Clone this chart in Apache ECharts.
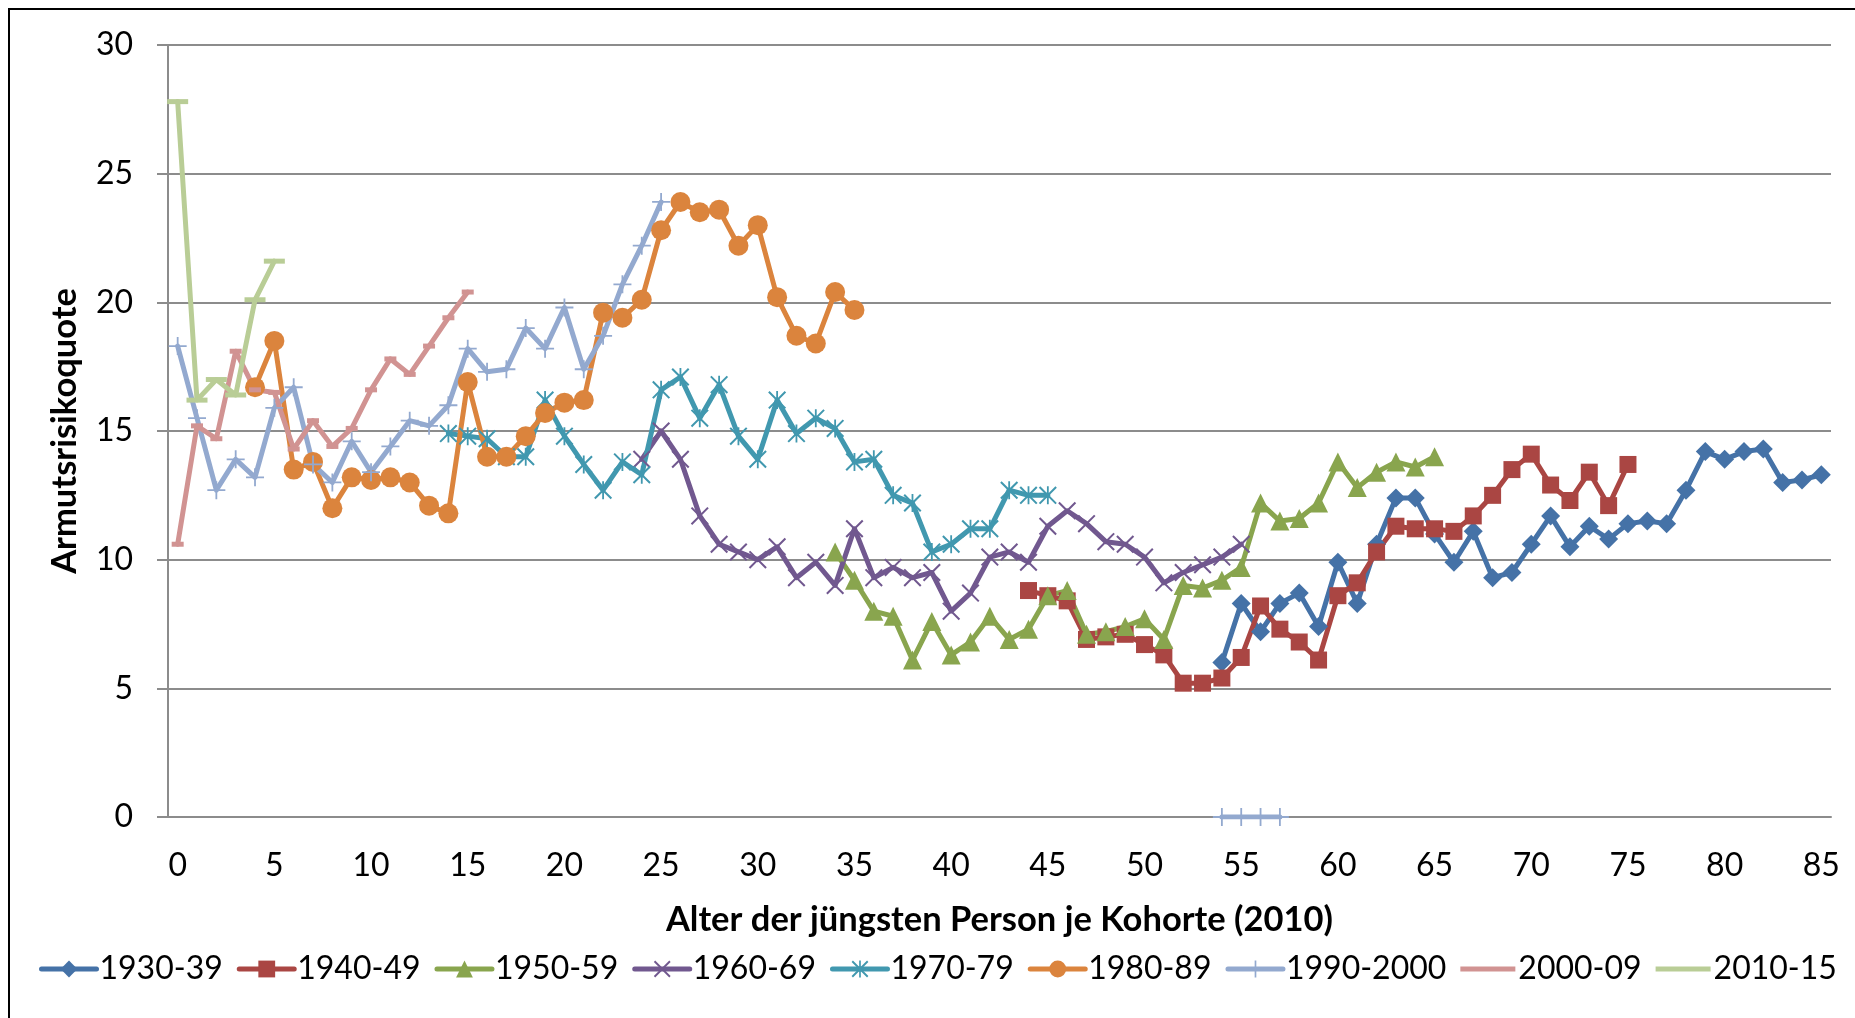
<!DOCTYPE html>
<html>
<head>
<meta charset="utf-8">
<script src="https://cdn.jsdelivr.net/npm/echarts@6.0.0/dist/echarts.min.js"></script>
<style>
  html, body { margin: 0; padding: 0; background: #fff; }
  #chart { width: 1855px; height: 1018px; }
</style>
</head>
<body>
<div id="chart"></div>
<script>
// Alter 0..85
const ages = [0, 1, 2, 3, 4, 5, 6, 7, 8, 9, 10, 11, 12, 13, 14, 15, 16, 17, 18, 19,
  20, 21, 22, 23, 24, 25, 26, 27, 28, 29, 30, 31, 32, 33, 34, 35, 36, 37, 38, 39,
  40, 41, 42, 43, 44, 45, 46, 47, 48, 49, 50, 51, 52, 53, 54, 55, 56, 57, 58, 59,
  60, 61, 62, 63, 64, 65, 66, 67, 68, 69, 70, 71, 72, 73, 74, 75, 76, 77, 78, 79,
  80, 81, 82, 83, 84, 85];

const yTicks = [0, 5, 10, 15, 20, 25, 30];

// Werte je Kohorte, jeweils ab dem angegebenen Startalter
const v1930 = [6.0, 8.3, 7.2, 8.3, 8.7, 7.4, 9.9, 8.3, 10.6, 12.4, 12.4, 11.0, 9.9, 11.1, 9.3, 9.5,
  10.6, 11.7, 10.5, 11.3, 10.8, 11.4, 11.5, 11.4, 12.7, 14.2, 13.9, 14.2, 14.3, 13.0, 13.1, 13.3]; // ab 54
const v1940 = [8.8, 8.6, 8.4, 6.9, 7.0, 7.1, 6.7, 6.3, 5.2, 5.2, 5.4, 6.2, 8.2, 7.3, 6.8, 6.1,
  8.6, 9.1, 10.3, 11.3, 11.2, 11.2, 11.1, 11.7, 12.5, 13.5, 14.1, 12.9, 12.3, 13.4, 12.1, 13.7]; // ab 44
const v1950 = [10.3, 9.2, 8.0, 7.8, 6.1, 7.6, 6.3, 6.8, 7.8, 6.9, 7.3, 8.6, 8.8, 7.1, 7.2, 7.4,
  7.7, 6.9, 9.0, 8.9, 9.2, 9.7, 12.2, 11.5, 11.6, 12.2, 13.8, 12.8, 13.4, 13.8, 13.6, 14.0]; // ab 34
const v1960 = [13.9, 15.0, 13.9, 11.7, 10.6, 10.3, 10.0, 10.5, 9.3, 9.9, 9.0, 11.2, 9.3, 9.7, 9.3, 9.5,
  8.0, 8.7, 10.1, 10.3, 9.9, 11.3, 11.9, 11.4, 10.7, 10.6, 10.1, 9.1, 9.5, 9.8, 10.1, 10.6]; // ab 24
const v1970 = [14.9, 14.8, 14.7, 14.0, 14.0, 16.2, 14.8, 13.7, 12.7, 13.8, 13.3, 16.6, 17.1, 15.5, 16.8, 14.8,
  13.9, 16.2, 14.9, 15.5, 15.1, 13.8, 13.9, 12.5, 12.2, 10.3, 10.6, 11.2, 11.2, 12.7, 12.5, 12.5]; // ab 14
const v1980 = [16.7, 18.5, 13.5, 13.8, 12.0, 13.2, 13.1, 13.2, 13.0, 12.1, 11.8, 16.9, 14.0, 14.0, 14.8, 15.7,
  16.1, 16.2, 19.6, 19.4, 20.1, 22.8, 23.9, 23.5, 23.6, 22.2, 23.0, 20.2, 18.7, 18.4, 20.4, 19.7]; // ab 4
const v1990 = [18.3, 15.5, 12.7, 13.9, 13.2, 15.9, 16.7, 13.7, 13.0, 14.6, 13.4, 14.4, 15.4, 15.2, 16.0, 18.2,
  17.3, 17.4, 19.0, 18.2, 19.8, 17.4, 18.7, 20.7, 22.2, 23.9]; // ab 0
const v1990late = [0, 0, 0, 0]; // ab 54
const v2000 = [10.6, 15.2, 14.7, 18.1, 16.6, 16.5, 14.3, 15.4, 14.4, 15.1, 16.6, 17.8, 17.2, 18.3, 19.4, 20.4]; // ab 0
const v2010 = [27.8, 16.2, 17.0, 16.4, 20.1, 21.6]; // ab 0

function place(parts) {
  const out = ages.map(() => null);
  parts.forEach(([start, vals]) => vals.forEach((v, i) => { out[start + i] = v; }));
  return out;
}

const markX = 'path://M0,1.6L1.6,0L20,18.4L18.4,20Z M18.4,0L20,1.6L1.6,20L0,18.4Z';
const markStar = 'path://M0,1.6L1.6,0L20,18.4L18.4,20Z M18.4,0L20,1.6L1.6,20L0,18.4Z M9,0H11V20H9Z';
const markPlus = 'path://M9,0H11V20H9Z M0,9H20V11H0Z';
// nur Linie in der Legende (Balken-Marker gehen in der Linie auf)
const legendBar = 'path://M0,8H55V13H0Z M0,0L0.01,0L0,0.01Z M55,21L54.99,21L55,20.99Z';

const cohorts = [
  { name: '1930-39', color: '#4572A7', symbol: 'diamond', size: 19, parts: [[54, v1930]] },
  { name: '1940-49', color: '#AA4643', symbol: 'rect', size: 17, parts: [[44, v1940]] },
  { name: '1950-59', color: '#89A54E', symbol: 'triangle', size: 19, parts: [[34, v1950]] },
  { name: '1960-69', color: '#71588F', symbol: markX, size: 18, parts: [[24, v1960]] },
  { name: '1970-79', color: '#4198AF', symbol: markStar, size: 18, parts: [[14, v1970]] },
  { name: '1980-89', color: '#DB843D', symbol: 'circle', size: 20, parts: [[4, v1980]] },
  { name: '1990-2000', color: '#93A9CF', symbol: markPlus, size: 18, parts: [[0, v1990], [54, v1990late]] },
  { name: '2000-09', color: '#D19392', symbol: 'rect', size: [12, 5], parts: [[0, v2000]], bar: true },
  { name: '2010-15', color: '#B9CD96', symbol: 'rect', size: [21, 5], parts: [[0, v2010]], bar: true }
];

const font = 'Lato, "Open Sans", sans-serif';
const gray = '#8c8c8c';

const chart = echarts.init(document.getElementById('chart'));
chart.setOption({
  backgroundColor: '#fff',
  animation: false,
  textStyle: { fontFamily: font, color: '#000' },
  graphic: [{
    type: 'rect',
    shape: { x: 9, y: 9, width: 1900, height: 1100 },
    style: { fill: 'none', stroke: '#000', lineWidth: 2 },
    silent: true
  }],
  grid: { left: 168, right: 24, top: 45, bottom: 201 },
  legend: {
    left: 34,
    top: 948,
    itemWidth: 55,
    itemHeight: 21,
    itemGap: 14,
    lineStyle: { width: 5 },
    textStyle: { fontFamily: font, fontSize: 32, color: '#000', padding: [0, 0, 0, -2] },
    data: cohorts.map(c => c.bar
      ? { name: c.name, icon: legendBar }
      : { name: c.name, lineStyle: { width: 5 } })
  },
  xAxis: {
    type: 'category',
    data: ages,
    name: 'Alter der jüngsten Person je Kohorte (2010)',
    nameLocation: 'middle',
    nameGap: 85,
    nameTextStyle: { fontFamily: font, fontSize: 34.5, fontWeight: 'bold', color: '#000' },
    axisLine: { lineStyle: { color: gray, width: 2 } },
    axisTick: { interval: 0, length: 11, lineStyle: { color: gray, width: 2 } },
    axisLabel: { interval: 4, margin: 33, fontSize: 32, fontFamily: font, color: '#000' },
    splitLine: { show: false }
  },
  yAxis: {
    type: 'value',
    min: yTicks[0],
    max: yTicks[yTicks.length - 1],
    interval: 5,
    name: 'Armutsrisikoquote',
    nameLocation: 'middle',
    nameGap: 86,
    nameTextStyle: { fontFamily: font, fontSize: 34.5, fontWeight: 'bold', color: '#000' },
    axisLine: { show: true, lineStyle: { color: gray, width: 2 } },
    axisTick: { show: true, length: 11, lineStyle: { color: gray, width: 2 } },
    axisLabel: { margin: 35, fontSize: 32, fontFamily: font, color: '#000' },
    splitLine: { lineStyle: { color: gray, width: 2 } }
  },
  series: cohorts.map(c => ({
    name: c.name,
    type: 'line',
    data: place(c.parts),
    symbol: c.symbol,
    symbolSize: c.size,
    showAllSymbol: true,
    itemStyle: { color: c.color, borderWidth: 0 },
    lineStyle: { color: c.color, width: 5, cap: 'round', join: 'round' },
    emphasis: { disabled: true }
  }))
});
</script>
</body>
</html>
